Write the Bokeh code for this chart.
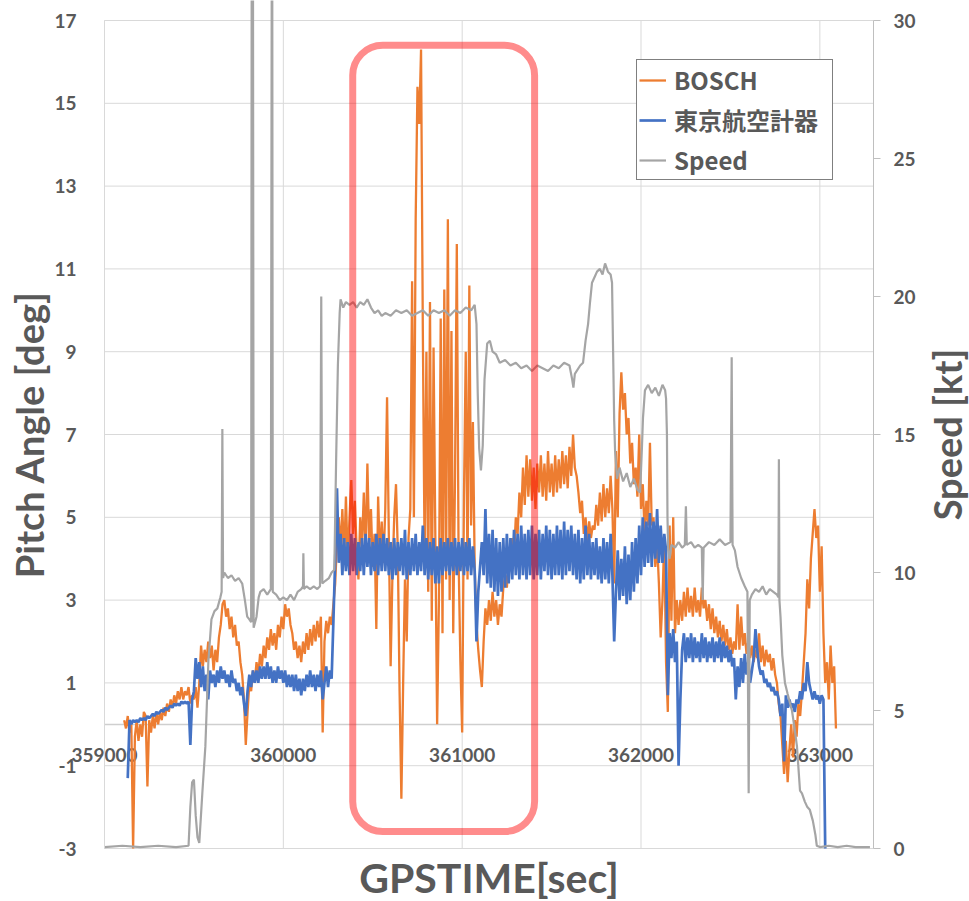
import math
import numpy as np
from bokeh.plotting import figure
from bokeh.models import (Range1d, LinearAxis, FixedTicker, PrintfTickFormatter,
                          Legend, LegendItem, BoxAnnotation, Label)
from bokeh.embed import file_html
from bokeh.resources import INLINE

# ---------------- data ----------------
X_START, X_END = 359000, 363300
X_TICKS = [359000, 360000, 361000, 362000, 363000]
PITCH_TICKS = [-3, -1, 1, 3, 5, 7, 9, 11, 13, 15, 17]
SPEED_TICKS = [0, 5, 10, 15, 20, 25, 30]

SERIES_NAMES = ["BOSCH", "東京航空計器", "Speed"]
X_TITLE = "GPSTIME[sec]"
Y_TITLE = "Pitch Angle [deg]"
Y2_TITLE = "Speed [kt]"

# BOSCH pitch angle [deg], sampled every 10 s starting at 359110
BOSCH_T0 = 359110
BOSCH_DT = 10
BOSCH = [
    0.1, -0.1, 0.2, -0.2, 0.0, -3.0, -0.3, 0.1, -0.4, 0.0,
    -0.3, 0.3, 0.2, -1.5, 0.1, -0.2, 0.2, -0.1, 0.3, 0.0,
    0.3, 0.1, 0.4, 0.2, 0.5, 0.3, 0.6, 0.4, 0.7, 0.5,
    0.8, 0.6, 0.9, 0.6, 0.8, 0.7, 0.9, 0.5, 0.7, 0.6,
    0.9, 0.4, 1.0, 1.9, 1.4, 1.8, 1.5, 2.0, 1.6, 1.9,
    1.3, 1.8, 1.5, 2.1, 2.4, 2.9, 3.0, 2.6, 2.8, 2.3,
    2.6, 2.1, 2.4, 1.9, 2.0, 1.5, 1.2, 0.6, -0.5, 0.3,
    1.0, 0.8, 1.3, 1.0, 1.5, 1.2, 1.7, 1.4, 1.9, 1.6,
    2.1, 1.8, 2.3, 1.9, 2.2, 1.8, 2.4, 2.1, 2.6, 2.3,
    2.9, 2.6, 2.8, 2.4, 2.2, 1.8, 2.0, 1.6, 1.9, 1.5,
    2.0, 1.7, 2.2, 1.8, 2.3, 1.9, 2.4, 2.0, 2.5, 2.1,
    2.6, -0.2, 2.0, 2.5, 2.2, 2.6, 2.4, 2.9, 3.4, 4.4,
    5.0, 4.2, 5.2, 4.0, 5.5, 3.9, 5.0, 5.9, 4.6, 5.4,
    4.2, 3.5, 5.0, 4.3, 5.6, 4.1, 6.3, 4.4, 5.2, 3.8,
    4.6, 2.3, 5.5, 4.0, 4.9, 3.9, 5.2, 7.9, 4.5, 1.4,
    3.6, 5.0, 5.8, 4.2, 0.8, -1.8, 1.0, 3.5, 2.0, 4.5,
    5.2, 10.7, 5.0, 12.2, 15.4, 14.5, 16.3, 9.5, 4.0, 9.0,
    3.2, 10.2, 2.5, 9.1, 4.5, 0.0, 3.0, 9.8, 2.2, 10.5,
    3.5, 12.2, 3.0, 9.5, 2.2, 6.0, 11.6, 4.0, 1.5, -0.2,
    5.5, 9.0, 3.5, 10.6, 4.8, 7.3, 3.8, 2.4, 1.8, 1.3,
    0.9, 2.0, 2.8, 2.4, 3.0, 2.5, 3.2, 2.6, 3.0, 2.4,
    2.9, 2.6, 3.3, 3.6, 3.3, 4.0, 3.7, 4.5, 4.1, 5.0,
    4.6, 5.6, 5.0, 6.2, 5.3, 6.5, 5.5, 6.4, 5.4, 6.2,
    5.2, 6.3, 5.6, 6.5, 5.5, 6.3, 5.4, 6.6, 5.6, 6.3,
    5.5, 6.5, 5.6, 6.4, 5.7, 6.6, 5.8, 6.5, 5.7, 6.7,
    6.0, 7.0, 6.2, 6.0, 5.6, 5.1, 5.4, 4.6, 5.0, 4.4,
    4.9, 4.5, 4.8, 4.7, 5.3, 4.8, 5.6, 4.9, 5.8, 5.0,
    5.7, 5.1, 6.0, 5.2, 3.4, 6.6, 5.0, 7.5, 8.5, 7.6,
    8.0, 7.0, 7.4, 6.3, 6.8, 5.8, 6.2, 5.5, 7.0, 5.2,
    5.8, 4.6, 5.4, 4.8, 6.8, 4.8, 5.0, 3.8, 4.4, 3.4,
    2.1, 3.0, 4.5, 1.5, 0.3, 4.8, 2.5, 5.0, 2.2, 3.0,
    2.4, 3.0, 2.5, 3.2, 2.6, 3.3, 2.7, 3.1, 2.6, 3.3,
    2.7, 3.0, 2.6, 3.3, 2.8, 3.0, 2.5, 2.9, 2.3, 2.8,
    2.2, 2.6, 2.1, 2.5, 2.0, 2.4, 1.9, 2.3, 1.8, 2.1,
    1.7, 2.0, 1.8, 2.9, 1.8, 2.6, 1.9, 2.2, 1.7, 2.0,
    1.6, 1.9, 1.5, 1.8, 1.6, 2.2, 1.5, 1.9, 1.4, 1.8,
    1.5, 1.7, 1.3, 1.6, 1.2, 1.0, 0.5, 0.2, -0.5, -1.2,
    -0.4, -1.4, -0.6, 0.0, -0.8, 0.1, -0.3, 0.5, 0.2, 0.8,
    1.5, 2.2, 3.5, 2.8, 4.0, 4.6, 5.2, 4.5, 4.8, 3.2,
    4.3, 2.2, 1.0, 1.5, 0.6, 1.9, 1.0, 1.4, -0.1,
]

# 東京航空計器 pitch angle [deg], sampled every 10 s starting at 359130
TKK_T0 = 359130
TKK_DT = 10
TKK = [
    -1.3, 0.1, 0.0, 0.1, 0.05, 0.1, 0.05, 0.15, 0.1, 0.15,
    0.1, 0.2, 0.15, 0.2, 0.25, 0.2, 0.3, 0.25, 0.3, 0.35,
    0.3, 0.4, 0.35, 0.4, 0.45, 0.4, 0.5, 0.45, 0.5, 0.45,
    0.55, 0.5, 0.55, 0.5, 0.55, -0.5, 0.6, 0.8, 1.6, 1.1,
    1.5, 0.9, 1.4, 0.8, 1.2, 0.6, 1.3, 1.0, 1.2, 0.9,
    1.3, 1.0, 1.4, 1.1, 1.3, 1.0, 1.2, 0.9, 1.3, 1.0,
    1.1, 0.8, 1.0, 0.7, 0.9, 0.5, 0.2, 0.8, 1.2, 0.9,
    1.3, 1.0, 1.3, 1.0, 1.4, 1.1, 1.4, 1.1, 1.5, 1.1,
    1.4, 1.0, 1.3, 1.0, 1.4, 1.1, 1.3, 1.0, 1.3, 0.9,
    1.2, 0.9, 1.2, 0.8, 1.2, 0.8, 1.1, 0.7, 1.1, 0.8,
    1.2, 0.9, 1.3, 0.9, 1.2, 0.8, 1.2, 0.9, 1.3, 0.6,
    1.0, 1.4, 0.9, 1.3, 1.1, 2.5, 4.0, 5.7, 3.9, 4.6,
    3.6, 4.5, 3.7, 4.4, 3.6, 4.6, 3.7, 4.5, 3.6, 4.4,
    3.7, 4.5, 3.6, 4.6, 3.8, 4.5, 3.6, 4.4, 3.7, 4.6,
    3.6, 4.5, 3.7, 4.6, 3.7, 4.5, 3.6, 4.4, 3.5, 4.5,
    3.6, 4.4, 3.7, 4.5, 3.6, 4.7, 3.5, 4.4, 3.6, 4.5,
    3.7, 4.6, 3.6, 4.4, 3.7, 4.8, 3.6, 4.5, 3.5, 4.4,
    3.6, 4.5, 3.4, 4.3, 3.4, 4.5, 3.6, 4.4, 3.7, 4.5,
    3.6, 4.4, 3.7, 4.5, 3.6, 4.4, 3.7, 4.5, 3.6, 4.4,
    3.7, 4.5, 3.6, 4.3, 3.7, 2.0, 3.2, 3.8, 4.4, 3.6,
    5.2, 3.4, 4.6, 3.3, 4.7, 3.2, 4.5, 3.1, 4.4, 3.2,
    4.5, 3.3, 4.6, 3.4, 4.5, 3.5, 4.7, 3.6, 4.6, 3.5,
    4.8, 3.6, 4.6, 3.5, 4.7, 3.6, 4.8, 3.5, 4.6, 3.6,
    4.7, 3.5, 4.6, 3.7, 4.8, 3.6, 4.7, 3.5, 4.6, 3.6,
    4.8, 3.6, 4.7, 3.5, 4.9, 3.6, 4.7, 3.7, 4.8, 3.6,
    4.6, 3.5, 4.7, 3.4, 4.5, 3.5, 4.8, 3.6, 4.6, 3.5,
    4.4, 3.6, 4.5, 3.5, 4.3, 3.4, 4.5, 3.5, 4.4, 3.4,
    4.6, 3.6, 2.0, 3.2, 4.2, 3.0, 4.0, 3.1, 4.3, 2.9,
    4.1, 3.0, 4.4, 3.2, 4.5, 3.4, 4.8, 3.6, 5.0, 3.8,
    4.9, 3.9, 5.1, 3.8, 4.9, 4.0, 5.2, 3.9, 4.8, 3.9,
    4.6, 4.2, 0.7, 2.2, 1.6, 2.3, 1.5, 2.0, -1.0, 0.6,
    1.8, 2.2, 1.5, 2.1, 1.6, 2.2, 1.5, 2.1, 1.6, 2.0,
    1.5, 2.2, 1.6, 2.1, 1.5, 2.0, 1.6, 2.1, 1.5, 2.0,
    1.6, 2.1, 1.5, 2.0, 1.6, 1.9, 1.5, 1.8, 1.4, 1.6,
    0.6, 1.4, 0.9, 1.6, 1.0, 1.7, 1.2, 1.5, 1.0, 1.3,
    1.6, 2.3, 1.8, 1.4, 1.2, 1.3, 1.0, 1.1, 0.9, 1.0,
    0.8, 0.9, 0.7, 0.8, 0.6, 0.2, 0.5, -0.9, 0.7, 0.4,
    0.6, 0.4, 0.5, 0.3, 0.6, 0.5, 0.8, 0.6, 1.0, 0.8,
    1.5, 1.0, 0.8, 0.6, 0.8, 0.6, 0.7, 0.5, 0.7, 0.6,
    -3.0,
]

# Speed [kt] (right axis): explicit GPS times and values
SPEED_T = [
    359000, 359100, 359200, 359300, 359400, 359470, 359480, 359490, 359500, 359510,
    359520, 359530, 359547, 359564, 359581, 359598, 359615, 359631, 359648, 359655,
    359659, 359663, 359670, 359690, 359710, 359730, 359750, 359770, 359785, 359798,
    359810, 359820, 359824, 359826, 359829, 359834, 359850, 359862, 359871, 359890,
    359910, 359930, 359937, 359941, 359960, 359980, 360000, 360020, 360040, 360060,
    360080, 360100, 360110, 360112, 360115, 360130, 360150, 360170, 360190, 360205,
    360212, 360218, 360235, 360255, 360270, 360285, 360295, 360305, 360315, 360320,
    360335, 360350, 360370, 360390, 360410, 360430, 360450, 360470, 360490, 360510,
    360530, 360550, 360570, 360600, 360630, 360660, 360690, 360720, 360750, 360780,
    360810, 360840, 360870, 360900, 360930, 360960, 360990, 361020, 361050, 361070,
    361080, 361087, 361095, 361105, 361115, 361125, 361140, 361155, 361170, 361190,
    361210, 361240, 361270, 361300, 361330, 361360, 361390, 361420, 361450, 361480,
    361510, 361540, 361570, 361600, 361615, 361622, 361630, 361660, 361676, 361690,
    361704, 361715, 361726, 361740, 361754, 361770, 361785, 361799, 361815, 361830,
    361838, 361844, 361850, 361855, 361866, 361880, 361900, 361920, 361940, 361960,
    361980, 361995, 362005, 362011, 362022, 362040, 362060, 362080, 362100, 362120,
    362135, 362140, 362145, 362148, 362152, 362160, 362170, 362190, 362210, 362230,
    362245, 362251, 362256, 362280, 362300, 362320, 362340, 362345, 362350, 362380,
    362410, 362440, 362470, 362500, 362507, 362512, 362525, 362540, 362560, 362580,
    362595, 362602, 362608, 362620, 362640, 362660, 362680, 362700, 362720, 362740,
    362760, 362768, 362771, 362774, 362780, 362790, 362805, 362820, 362844, 362860,
    362872, 362889, 362900, 362916, 362930, 362944, 362961, 362975, 362983, 363000,
    363050, 363100, 363150, 363200, 363280,
]
SPEED_V = [
    0.05, 0.1, 0.05, 0.1, 0.05, 0.1, 1.5, 2.4, 2.5, 1.2,
    0.4, 0.2, 2.0, 3.7, 6.8, 8.3, 8.6, 8.7, 9.1, 9.3,
    15.2, 9.8, 10.0, 9.8, 9.9, 9.7, 9.8, 9.6, 9.0, 8.4,
    8.3, 8.2, 40.0, 8.2, 40.0, 8.0, 8.4, 9.1, 9.3, 9.4,
    9.2, 9.4, 40.0, 9.3, 9.2, 9.0, 9.1, 9.0, 9.2, 9.0,
    9.3, 9.4, 9.5, 10.7, 9.4, 9.5, 9.4, 9.5, 9.4, 9.5,
    20.0, 9.6, 9.7, 9.8, 10.0, 10.1, 14.0, 17.5, 19.4, 19.9,
    19.6, 19.8, 19.7, 19.8, 19.6, 19.8, 19.7, 19.9, 19.6, 19.4,
    19.5, 19.3, 19.4, 19.3, 19.5, 19.4, 19.5, 19.3, 19.4, 19.5,
    19.3, 19.5, 19.4, 19.5, 19.3, 19.5, 19.4, 19.6, 19.5, 19.7,
    19.0, 16.5, 14.5, 13.7, 14.6, 17.0, 18.3, 18.4, 18.0, 17.9,
    17.6, 17.7, 17.5, 17.6, 17.4, 17.5, 17.3, 17.5, 17.4, 17.3,
    17.5, 17.4, 17.6, 17.5, 17.0, 16.7, 17.2, 17.5, 17.6, 18.4,
    19.0, 19.8, 20.5, 20.7, 20.9, 21.0, 20.8, 21.2, 20.9, 20.8,
    20.5, 18.0, 15.5, 14.4, 13.4, 13.8, 13.3, 13.6, 13.1, 13.4,
    13.0, 12.9, 14.5, 15.6, 16.6, 16.8, 16.5, 16.7, 16.4, 16.8,
    16.6, 16.3, 15.0, 12.0, 10.8, 10.5, 11.0, 10.9, 11.1, 10.9,
    11.0, 12.4, 11.0, 11.1, 10.9, 11.0, 10.9, 9.0, 10.9, 11.1,
    11.0, 11.2, 11.0, 11.1, 17.8, 11.0, 10.8, 10.2, 9.8, 9.5,
    9.3, 2.0, 9.0, 9.2, 9.4, 9.3, 9.5, 9.2, 9.4, 9.3,
    9.2, 9.1, 14.1, 9.0, 8.4, 7.0, 6.0, 5.6, 5.0, 4.3,
    3.7, 2.1, 2.0, 1.7, 1.5, 1.4, 1.0, 0.5, 0.1, 0.05,
    0.1, 0.05, 0.1, 0.05, 0.05,
]

# highlighted region (rounded box) in data coordinates
HIGHLIGHT_LEFT, HIGHLIGHT_RIGHT = 360388, 361405
HIGHLIGHT_BOTTOM, HIGHLIGHT_TOP = -2.59, 16.40

# ---------------- layout (canvas pixels) ----------------
CANVAS_W, CANVAS_H = 969, 901
AREA_L, AREA_R, AREA_T, AREA_B = 104, 873, 20, 848   # plot area inside canvas

P_MIN, P_MAX = PITCH_TICKS[0], PITCH_TICKS[-1]
S_MIN, S_MAX = SPEED_TICKS[0], SPEED_TICKS[-1]

sx = (X_END - X_START) / (AREA_R - AREA_L)
sp = (P_MAX - P_MIN) / (AREA_B - AREA_T)
ss = (S_MAX - S_MIN) / (AREA_B - AREA_T)
x_rng = Range1d(X_START - AREA_L * sx, X_END + (CANVAS_W - AREA_R) * sx)
p_rng = Range1d(P_MIN - (CANVAS_H - AREA_B) * sp, P_MAX + AREA_T * sp)
s_rng = Range1d(S_MIN - (CANVAS_H - AREA_B) * ss, S_MAX + AREA_T * ss)

# ---------------- styling constants ----------------
ORANGE = "#ED7D31"
BLUE = "#4472C4"
GRAY = "#A5A5A5"
TEXT = "#595959"
GRID = "#D9D9D9"
FONT = "Lato"

bosch_t = BOSCH_T0 + BOSCH_DT * np.arange(len(BOSCH))
tkk_t = TKK_T0 + TKK_DT * np.arange(len(TKK))

p = figure(width=CANVAS_W, height=CANVAS_H, output_backend="svg",
           toolbar_location=None, x_axis_type=None, y_axis_type=None,
           x_range=x_rng, y_range=p_rng, min_border=0,
           min_border_left=0, min_border_right=0, min_border_top=0,
           min_border_bottom=0)
p.extra_y_ranges = {"speed": s_rng}
p.outline_line_color = None
p.background_fill_color = "white"
p.border_fill_color = "white"

# gridlines restricted to the plot area
p.segment(x0=[X_START] * len(PITCH_TICKS), y0=PITCH_TICKS,
          x1=[X_END] * len(PITCH_TICKS), y1=PITCH_TICKS,
          line_color=GRID, line_width=1, level="underlay")
p.segment(x0=X_TICKS, y0=[P_MIN] * len(X_TICKS), x1=X_TICKS,
          y1=[P_MAX] * len(X_TICKS), line_color=GRID, line_width=1,
          level="underlay")

# horizontal axis crossing at pitch 0
xa = LinearAxis(fixed_location=0, bounds=(X_START, X_END),
                ticker=FixedTicker(ticks=X_TICKS),
                formatter=PrintfTickFormatter(format="%d"))
xa.axis_line_color = "#CFCFCF"
xa.axis_line_width = 1.5
xa.major_tick_line_color = None
xa.minor_tick_line_color = None
xa.major_label_standoff = 18
xa.major_label_text_font = FONT
xa.major_label_text_font_size = "19px"
xa.major_label_text_font_style = "bold"
xa.major_label_text_color = TEXT
xa.level = "underlay"
p.add_layout(xa, "below")

# left axis (pitch)
ya = LinearAxis(fixed_location=X_START, bounds=(P_MIN, P_MAX),
                ticker=FixedTicker(ticks=PITCH_TICKS),
                formatter=PrintfTickFormatter(format="%d"))
ya.axis_line_color = GRID
ya.major_tick_line_color = None
ya.minor_tick_line_color = None
ya.major_label_standoff = 22
ya.major_label_text_font = FONT
ya.major_label_text_font_size = "19px"
ya.major_label_text_font_style = "bold"
ya.major_label_text_color = TEXT
p.add_layout(ya, "left")

# right axis (speed)
ra = LinearAxis(y_range_name="speed", fixed_location=X_END, bounds=(S_MIN, S_MAX),
                ticker=FixedTicker(ticks=SPEED_TICKS),
                formatter=PrintfTickFormatter(format="%d"))
ra.axis_line_color = "#BFBFBF"
ra.major_tick_line_color = "#BFBFBF"
ra.major_tick_out = 7
ra.major_tick_in = 0
ra.minor_tick_line_color = None
ra.major_label_standoff = 13
ra.major_label_text_font = FONT
ra.major_label_text_font_size = "19px"
ra.major_label_text_font_style = "bold"
ra.major_label_text_color = TEXT
p.add_layout(ra, "right")

r1 = p.line(bosch_t, BOSCH, line_color=ORANGE, line_width=2.3)
r2 = p.line(tkk_t, TKK, line_color=BLUE, line_width=2.7)
r3 = p.line(SPEED_T, SPEED_V, line_color=GRAY, line_width=2.2, y_range_name="speed")

# axis titles
p.add_layout(Label(x=(X_START + X_END) / 2, y=P_MIN, text=X_TITLE, y_offset=-4,
                   text_align="center", text_baseline="top", text_font=FONT,
                   text_font_size="41px", text_font_style="bold", text_color=TEXT))
p.add_layout(Label(x=X_START, y=(P_MIN + P_MAX) / 2, text=Y_TITLE, x_offset=-76,
                   angle=math.pi / 2, text_align="center", text_baseline="middle",
                   text_font=FONT, text_font_size="38px", text_font_style="bold",
                   text_color=TEXT))
p.add_layout(Label(x=X_END, y=(S_MIN + S_MAX) / 2, y_range_name="speed",
                   text=Y2_TITLE, x_offset=73, angle=math.pi / 2,
                   text_align="center", text_baseline="middle", text_font=FONT,
                   text_font_size="38px", text_font_style="bold", text_color=TEXT))

try:
    box = BoxAnnotation(left=HIGHLIGHT_LEFT, right=HIGHLIGHT_RIGHT,
                        bottom=HIGHLIGHT_BOTTOM, top=HIGHLIGHT_TOP,
                        fill_color=None, line_color="#FF0000", line_alpha=0.45,
                        line_width=7, border_radius=30)
except Exception:
    box = BoxAnnotation(left=HIGHLIGHT_LEFT, right=HIGHLIGHT_RIGHT,
                        bottom=HIGHLIGHT_BOTTOM, top=HIGHLIGHT_TOP,
                        fill_color=None, line_color="#FF0000", line_alpha=0.45,
                        line_width=7)
p.add_layout(box)

legend = Legend(items=[LegendItem(label=SERIES_NAMES[0], renderers=[r1]),
                       LegendItem(label=SERIES_NAMES[1], renderers=[r2]),
                       LegendItem(label=SERIES_NAMES[2], renderers=[r3])],
                location=(636, CANVAS_H - 180))
legend.label_text_font = "Noto Sans CJK JP"
legend.label_text_font_size = "24px"
legend.label_text_font_style = "bold"
legend.label_text_color = TEXT
legend.label_height = 28
legend.glyph_height = 28
legend.glyph_width = 27
legend.label_width = 156
legend.label_standoff = 8
legend.spacing = 5
legend.padding = 2
legend.margin = 0
legend.border_line_color = "black"
legend.border_line_width = 1
legend.background_fill_color = "white"
legend.background_fill_alpha = 1
p.add_layout(legend)

open("out.html", "w").write(file_html(p, INLINE))
